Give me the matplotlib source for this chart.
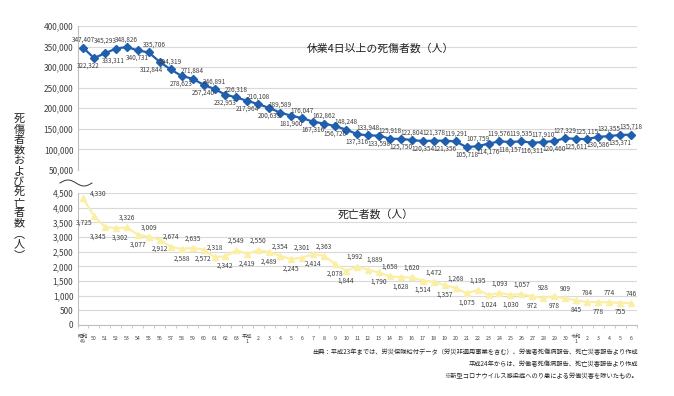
import matplotlib
matplotlib.use('Agg')
import matplotlib.pyplot as plt
import numpy as np

plt.rcParams['font.family'] = ['Noto Sans CJK JP', 'DejaVu Sans']

# x labels: 昭和49 .. 令和6
years = (['昭和\n49'] + [str(y) for y in range(50, 64)]
         + ['平成\n1'] + [str(y) for y in range(2, 31)]
         + ['令和\n1'] + [str(y) for y in range(2, 7)])

# 休業4日以上の死傷者数
injured = [347407, 322322, 333311, 345293, 348826, 340731, 335706, 312844, 294319, 278623,
           271884, 257240, 246891, 232953, 226318,
           217964, 210108, 200633, 189589, 181900, 176047, 167316, 162862, 156726, 148248,
           137316, 133948, 133598, 125918, 125750, 122804, 120354, 121378, 121356, 119291,
           105718, 107759, 114176, 119576, 118157, 119535, 116311, 117910, 120460, 127329,
           125611, 125115, 130586, 132355, 135371, 135718]

# 死亡者数
deaths = [4330, 3725, 3345, 3302, 3326, 3077, 3009, 2912, 2674, 2588, 2635, 2572, 2318, 2342, 2549,
          2419, 2550, 2489, 2354, 2245, 2301, 2414, 2363, 2078, 1844, 1992, 1889, 1790, 1658, 1628,
          1620, 1514, 1472, 1357, 1268, 1075, 1195, 1024, 1093, 1030, 1057, 972, 928, 978, 909,
          845, 784, 778, 774, 755, 746]

# label side: a = above, b = below
injured_pos = 'abbaababa' + 'ba' * 21
deaths_pos = 'ab' + 'bb' + 'ab' * 10 + 'baa' + 'ba' * 12
injured_dx = {1: -6, 2: 8, 3: -10, 6: 6, 7: -8}
deaths_dx = {2: -5, 3: 3, 25: -2, 26: 5}
deaths_off = {0: (11, 3), 1: (-7, -5)}

W, H = 674, 396
fig = plt.figure(figsize=(W / 100, H / 100), dpi=100)
x = np.arange(len(years))
blue = '#1f5fae'
yellow = '#fbefa6'
grid_c = '#d9d9d9'
txt_c = '#404040'

left, right = 77.5 / W, 636.5 / W
ax1 = fig.add_axes([left, 1 - 170 / H, right - left, 144 / H])
ax2 = fig.add_axes([left, 1 - 325 / H, right - left, 132 / H])

for ax in (ax1, ax2):
    ax.set_xlim(-0.5, len(years) - 0.5)
    for s in ('top', 'right'):
        ax.spines[s].set_visible(False)
    ax.spines['left'].set_color('#bfbfbf')
    ax.spines['left'].set_linewidth(0.8)
    ax.grid(axis='y', color=grid_c, linewidth=0.8)
    ax.set_axisbelow(True)
    ax.tick_params(axis='y', length=0, labelsize=6, colors=txt_c, pad=3)

# top panel
ax1.plot(x, injured, color=blue, linewidth=1.6, marker='D', markersize=3.8, zorder=3)
ax1.set_ylim(50000, 400000)
ax1.set_yticks(range(50000, 400001, 50000))
ax1.yaxis.set_major_formatter(matplotlib.ticker.StrMethodFormatter('{x:,.0f}'))
ax1.spines['bottom'].set_visible(False)
ax1.set_xticks([])
for i, v in enumerate(injured):
    dy = 5.5 if injured_pos[i] == 'a' else -5.5
    ax1.annotate(f'{v:,}', (i, v), xytext=(injured_dx.get(i, 0) * 0.72, dy),
                 textcoords='offset points', ha='center', va='center',
                 fontsize=4.6, color=txt_c)
fig.text(380 / W, 1 - 48 / H, '休業4日以上の死傷者数（人）', ha='center', va='center',
         fontsize=7.8, color='#222222')

# bottom panel
ax2.plot(x, deaths, color=yellow, linewidth=1.6, marker='^', markersize=4.5, zorder=3)
ax2.set_ylim(0, 4500)
ax2.set_yticks(range(0, 4501, 500))
ax2.yaxis.set_major_formatter(matplotlib.ticker.StrMethodFormatter('{x:,.0f}'))
ax2.spines['bottom'].set_color('#bfbfbf')
ax2.spines['bottom'].set_linewidth(0.8)
ax2.set_xticks(x)
ax2.set_xticklabels(years)
ax2.set_xticks(np.arange(-0.5, len(years), 1), minor=True)
ax2.tick_params(axis='x', which='major', length=0, pad=10, labelsize=3.8, colors=txt_c)
ax2.tick_params(axis='x', which='minor', length=2.5, color='#bfbfbf', width=0.6)
for lab in ax2.get_xticklabels():
    lab.set_va('center')
for i, v in enumerate(deaths):
    if i in deaths_off:
        dx, dy = deaths_off[i]
    else:
        dx, dy = deaths_dx.get(i, 0), (6.8 if deaths_pos[i] == 'a' else -6.8)
    ax2.annotate(f'{v:,}', (i, v), xytext=(dx, dy), textcoords='offset points',
                 ha='center', va='center', fontsize=4.8, color=txt_c)
fig.text(376 / W, 1 - 214 / H, '死亡者数（人）', ha='center', va='center',
         fontsize=7.8, color='#222222')

# axis break squiggle
sx = np.linspace(60, 92, 60)
sy = 183 - 3 * np.sin(2 * np.pi * (sx - 60) / 32)
fig.add_artist(plt.Line2D(sx / W, 1 - sy / H, color='#333333', linewidth=0.7,
                          transform=fig.transFigure))

# vertical y label
ylab = '死傷者数および死亡者数︵人︶'
fig.text(19 / W, 1 - 187 / H, '\n'.join(ylab), ha='center', va='center',
         fontsize=8, linespacing=1.05, color='#222222')

# source notes
notes = ['出典：平成23年までは、労災保険給付データ（労災非適用事業を含む）、労働者死傷病報告、死亡災害報告より作成',
         '平成24年からは、労働者死傷病報告、死亡災害報告より作成',
         '※新型コロナウイルス感染症へのり患による労働災害を除いたもの。']
for k, line in enumerate(notes):
    fig.text(638 / W, 1 - (352 + 12 * k) / H, line, ha='right', va='center',
             fontsize=4.5, color='#222222')

fig.savefig('out.png', dpi=100)
